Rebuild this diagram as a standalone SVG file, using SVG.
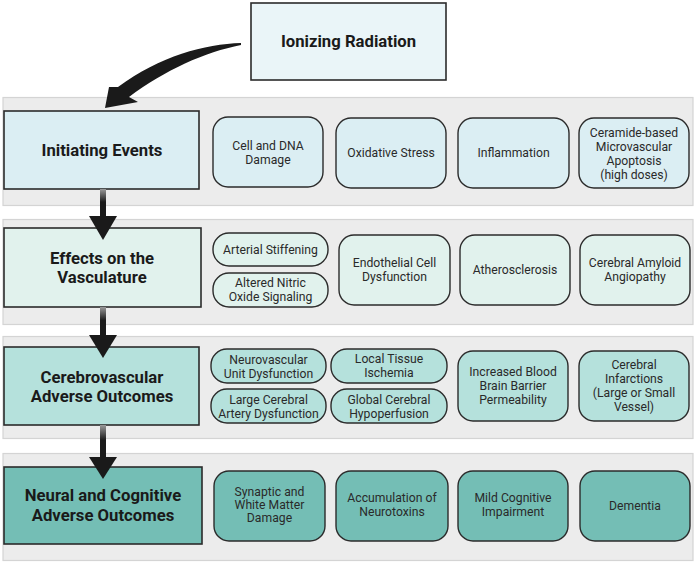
<svg xmlns="http://www.w3.org/2000/svg" width="699" height="562" viewBox="0 0 699 562">
<defs>
<style>
.band{fill:#ececec;stroke:#d4d4d4;stroke-width:1.2}
.main{stroke:#2b2b2b;stroke-width:1.6}
.sub{stroke:#2b2b2b;stroke-width:1.4}
.c1{fill:#dbeef3}
.c2{fill:#e1f2ed}
.c3{fill:#b5e1dc}
.c4{fill:#74beb5}
.t{font-family:Roboto,"Liberation Sans",sans-serif;fill:#222;text-anchor:middle}
.tb{font-size:16.7px;font-weight:bold;fill:#1a1a1a}
.ts{font-size:12.2px;fill:#2a2a2a}
</style>
<linearGradient id="shaft" x1="0" y1="0" x2="0" y2="1">
<stop offset="0" stop-color="#9a9a9a"/>
<stop offset="0.45" stop-color="#1a1a1a"/>
<stop offset="1" stop-color="#1a1a1a"/>
</linearGradient>
</defs>
<rect width="699" height="562" fill="#fff"/>

<g id="bands">
<rect class="band" x="3" y="97.5" width="690" height="108"/>
<rect class="band" x="3" y="219.5" width="690" height="105"/>
<rect class="band" x="3" y="336.5" width="690" height="102"/>
<rect class="band" x="3" y="453.5" width="690" height="107"/>
</g>

<g id="ionizing-radiation">
<rect class="main" x="251" y="3" width="195" height="77" fill="#eaf5f8"/>
<text class="t tb" x="348.5" y="47">Ionizing Radiation</text>
</g>

<g id="initiating-events">
<rect class="main c1" x="4" y="111" width="195" height="78"/>
<text class="t tb" x="102" y="156">Initiating Events</text>
</g>
<g id="cell-dna">
<rect class="sub c1" x="213" y="117" width="110" height="70" rx="15"/>
<text class="t ts" x="268" y="150">Cell and DNA</text>
<text class="t ts" x="268" y="164">Damage</text>
</g>
<g id="oxidative-stress">
<rect class="sub c1" x="336" y="118" width="110" height="70" rx="15"/>
<text class="t ts" x="391" y="157">Oxidative Stress</text>
</g>
<g id="inflammation">
<rect class="sub c1" x="458" y="118" width="111" height="70" rx="15"/>
<text class="t ts" x="513.5" y="157">Inflammation</text>
</g>
<g id="ceramide">
<rect class="sub c1" x="579" y="118" width="110" height="70" rx="15"/>
<text class="t ts" x="634" y="137">Ceramide-based</text>
<text class="t ts" x="634" y="151">Microvascular</text>
<text class="t ts" x="634" y="165">Apoptosis</text>
<text class="t ts" x="634" y="179">(high doses)</text>
</g>

<g id="effects-vasculature">
<rect class="main c2" x="4" y="228" width="197" height="79"/>
<text class="t tb" x="102" y="264">Effects on the</text>
<text class="t tb" x="102" y="283">Vasculature</text>
</g>
<g id="arterial-stiffening">
<rect class="sub c2" x="213" y="233" width="115" height="33" rx="16"/>
<text class="t ts" x="270.5" y="253.5">Arterial Stiffening</text>
</g>
<g id="nitric-oxide">
<rect class="sub c2" x="213" y="273" width="115" height="34" rx="16"/>
<text class="t ts" x="270.5" y="287">Altered Nitric</text>
<text class="t ts" x="270.5" y="300.5">Oxide Signaling</text>
</g>
<g id="endothelial">
<rect class="sub c2" x="339" y="235" width="111" height="70" rx="15"/>
<text class="t ts" x="394.5" y="267">Endothelial Cell</text>
<text class="t ts" x="394.5" y="281">Dysfunction</text>
</g>
<g id="atherosclerosis">
<rect class="sub c2" x="460" y="235" width="110" height="70" rx="15"/>
<text class="t ts" x="515" y="274">Atherosclerosis</text>
</g>
<g id="amyloid">
<rect class="sub c2" x="580" y="235" width="110" height="70" rx="15"/>
<text class="t ts" x="635" y="267">Cerebral Amyloid</text>
<text class="t ts" x="635" y="281">Angiopathy</text>
</g>

<g id="cerebrovascular">
<rect class="main c3" x="4" y="347" width="195" height="78"/>
<text class="t tb" x="102" y="383">Cerebrovascular</text>
<text class="t tb" x="102" y="402">Adverse Outcomes</text>
</g>
<g id="neurovascular">
<rect class="sub c3" x="211" y="349" width="115" height="34" rx="16"/>
<text class="t ts" x="268.5" y="364">Neurovascular</text>
<text class="t ts" x="268.5" y="377.5">Unit Dysfunction</text>
</g>
<g id="large-artery">
<rect class="sub c3" x="211" y="389" width="115" height="34" rx="16"/>
<text class="t ts" x="268.5" y="404">Large Cerebral</text>
<text class="t ts" x="268.5" y="417.5">Artery Dysfunction</text>
</g>
<g id="local-ischemia">
<rect class="sub c3" x="331" y="349" width="116" height="34" rx="16"/>
<text class="t ts" x="389" y="363">Local Tissue</text>
<text class="t ts" x="389" y="377">Ischemia</text>
</g>
<g id="global-hypoperfusion">
<rect class="sub c3" x="331" y="389" width="116" height="34" rx="16"/>
<text class="t ts" x="389" y="404">Global Cerebral</text>
<text class="t ts" x="389" y="417.5">Hypoperfusion</text>
</g>
<g id="bbb">
<rect class="sub c3" x="458" y="351" width="110" height="70" rx="15"/>
<text class="t ts" x="513" y="376">Increased Blood</text>
<text class="t ts" x="513" y="390">Brain Barrier</text>
<text class="t ts" x="513" y="404">Permeability</text>
</g>
<g id="infarctions">
<rect class="sub c3" x="579" y="351" width="110" height="70" rx="15"/>
<text class="t ts" x="634" y="369">Cerebral</text>
<text class="t ts" x="634" y="383">Infarctions</text>
<text class="t ts" x="634" y="397">(Large or Small</text>
<text class="t ts" x="634" y="411">Vessel)</text>
</g>

<g id="neural-cognitive">
<rect class="main c4" x="4" y="467" width="198" height="77"/>
<text class="t tb" x="103" y="501">Neural and Cognitive</text>
<text class="t tb" x="103" y="521">Adverse Outcomes</text>
</g>
<g id="synaptic">
<rect class="sub c4" x="214" y="471" width="111" height="70" rx="15"/>
<text class="t ts" x="269.5" y="496">Synaptic and</text>
<text class="t ts" x="269.5" y="509">White Matter</text>
<text class="t ts" x="269.5" y="522">Damage</text>
</g>
<g id="neurotoxins">
<rect class="sub c4" x="336" y="471" width="112" height="70" rx="15"/>
<text class="t ts" x="392" y="502">Accumulation of</text>
<text class="t ts" x="392" y="516">Neurotoxins</text>
</g>
<g id="mci">
<rect class="sub c4" x="458" y="471" width="110" height="70" rx="15"/>
<text class="t ts" x="513" y="502">Mild Cognitive</text>
<text class="t ts" x="513" y="516">Impairment</text>
</g>
<g id="dementia">
<rect class="sub c4" x="580" y="471" width="110" height="70" rx="15"/>
<text class="t ts" x="635" y="510">Dementia</text>
</g>

<g id="connectors" fill="#1a1a1a">
<path d="M241,43 C205,44 160,56 118,87 L109,87 L105,108 L138,102 L129,97 C165,70 205,52 241,45 Z"/>
<rect x="100" y="189" width="6" height="29" fill="url(#shaft)"/>
<path d="M89,216 L117,216 L103,240 Z"/>
<rect x="100" y="307" width="6" height="30" fill="url(#shaft)"/>
<path d="M89,335 L117,335 L103,358 Z"/>
<rect x="100" y="425" width="6" height="34" fill="url(#shaft)"/>
<path d="M89,457 L117,457 L103,479 Z"/>
</g>
</svg>
